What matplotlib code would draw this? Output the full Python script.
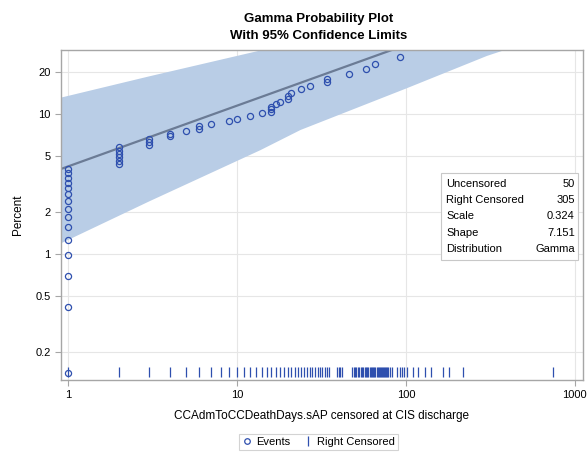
import numpy as np
import matplotlib
matplotlib.use("Agg")
import matplotlib.pyplot as plt
from matplotlib.lines import Line2D
from matplotlib.ticker import FixedLocator, FixedFormatter, NullLocator

plt.rcParams["font.family"] = ["Liberation Sans", "DejaVu Sans"]

# event times (days) and their plotted percent
EV_X = [1] * 15 + [2] * 6 + [3] * 3 + [4] * 2 + [5] + [6] * 2 + [7, 9, 10, 12, 14] \
    + [16] * 3 + [17, 18] + [20] * 2 + [21, 24, 27] + [34] * 2 + [46, 58, 66, 92]
EV_P = [0.14, 0.42, 0.70, 0.99, 1.27, 1.55, 1.83, 2.11, 2.39, 2.68, 2.96, 3.24, 3.52, 3.80, 4.08,
        4.38, 4.66, 4.95, 5.23, 5.51, 5.80,
        6.08, 6.37, 6.66,
        6.97, 7.28,
        7.58,
        7.90, 8.22,
        8.55, 9.0, 9.35, 9.8, 10.2,
        10.5, 10.9, 11.3,
        11.8, 12.3,
        12.9, 13.5,
        14.3, 15.1, 15.9,
        17.1, 18.1,
        19.5, 21.2, 23.0, 25.8]

# right-censored times (rug)
CENS_X = list(range(1, 36)) + [39, 40, 41, 42] + list(range(48, 79)) + [81, 83] \
    + [89, 92, 95, 98, 101, 110, 118, 130, 140, 165, 180, 217, 740]

# fitted line and confidence band
FIT_X = [0.9, 1200]
FIT_P = [4.05, 93.0]
BAND_X = [0.9, 3.0, 13.7, 23.6, 100, 300, 500, 1200]
BAND_LO = [1.2, 2.4, 5.6, 7.8, 15.5, 26.5, 32.5, 50.0]
BAND_HI = [13.3, 18.9, 29.0, 33.5, 49.0, 66.0, 76.0, 97.0]

Y_TICKS = [0.2, 0.5, 1, 2, 5, 10, 20]
Y_LABELS = ["0.2", "0.5", "1", "2", "5", "10", "20"]
X_TICKS = [1, 10, 100, 1000]
X_LABELS = ["1", "10", "100", "1000"]

STATS_L = ["Uncensored", "Right Censored", "Scale", "Shape", "Distribution"]
STATS_R = ["50", "305", "0.324", "7.151", "Gamma"]

BAND_C = "#B9CDE6"
LINE_C = "#6B7B95"
MARK_C = "#2E4FAE"
GRID_C = "#E6E6E6"
FRAME_C = "#A6A6A6"

fig = plt.figure(figsize=(5.87, 4.54), dpi=100)
ax = fig.add_axes([0.1039, 0.163, 0.889, 0.727])
ax.set_xscale("log")
ax.set_yscale("log")
ax.set_xlim(0.909, 1115)
ax.set_ylim(0.125, 29.0)

ax.fill_between(BAND_X, BAND_LO, BAND_HI, color=BAND_C, lw=0, zorder=1)
ax.plot(FIT_X, FIT_P, color=LINE_C, lw=1.6, zorder=2)
ax.plot(EV_X, EV_P, ls="none", marker="o", ms=4.4, mfc="none", mec=MARK_C, mew=0.9, zorder=4)
ax.vlines(CENS_X, 0.01, 0.04, color=MARK_C, lw=0.9, transform=ax.get_xaxis_transform(), zorder=3)

ax.xaxis.set_major_locator(FixedLocator(X_TICKS))
ax.xaxis.set_major_formatter(FixedFormatter(X_LABELS))
ax.xaxis.set_minor_locator(NullLocator())
ax.yaxis.set_major_locator(FixedLocator(Y_TICKS))
ax.yaxis.set_major_formatter(FixedFormatter(Y_LABELS))
ax.yaxis.set_minor_locator(NullLocator())
ax.grid(True, color=GRID_C, lw=0.8, zorder=0)
ax.set_axisbelow(True)
for s in ax.spines.values():
    s.set_color(FRAME_C)
    s.set_linewidth(1.0)
ax.tick_params(labelsize=8, length=4, width=0.8, color=FRAME_C, labelcolor="black")

ax.set_ylabel("Percent", fontsize=8.5, labelpad=8)
ax.set_xlabel("CCAdmToCCDeathDays.sAP censored at CIS discharge", fontsize=8.5, labelpad=7)

fig.text(0.543, 0.958, "Gamma Probability Plot", ha="center", va="center", fontsize=9.5, fontweight="bold")
fig.text(0.543, 0.921, "With 95% Confidence Limits", ha="center", va="center", fontsize=9.5, fontweight="bold")

# inset statistics table
x0, x1 = 0.752, 0.985
y_top = 0.612
dy = 0.0355
box = plt.Rectangle((x0, y_top - 5 * dy - 0.008), x1 - x0, 5 * dy + 0.014, transform=fig.transFigure,
                    facecolor="white", edgecolor="#C8C8C8", lw=0.8, zorder=5)
fig.add_artist(box)
for i, (l, r) in enumerate(zip(STATS_L, STATS_R)):
    yy = y_top - (i + 0.5) * dy
    fig.text(x0 + 0.008, yy, l, ha="left", va="center", fontsize=8, zorder=6)
    fig.text(x1 - 0.006, yy, r, ha="right", va="center", fontsize=8, zorder=6)

handles = [Line2D([], [], ls="none", marker="o", ms=4, mfc="none", mec=MARK_C, mew=0.9),
           Line2D([], [], ls="none", marker="|", ms=7, mec=MARK_C, mew=0.9)]
leg = fig.legend(handles, ["Events", "Right Censored"], loc="lower center", bbox_to_anchor=(0.543, -0.004),
                 ncol=2, fontsize=8, frameon=True, fancybox=False, handlelength=0.8, handletextpad=0.4,
                 columnspacing=1.2, borderpad=0.3)
leg.get_frame().set_edgecolor("#C8C8C8")
leg.get_frame().set_linewidth(0.8)

fig.savefig("out.png", dpi=100)
